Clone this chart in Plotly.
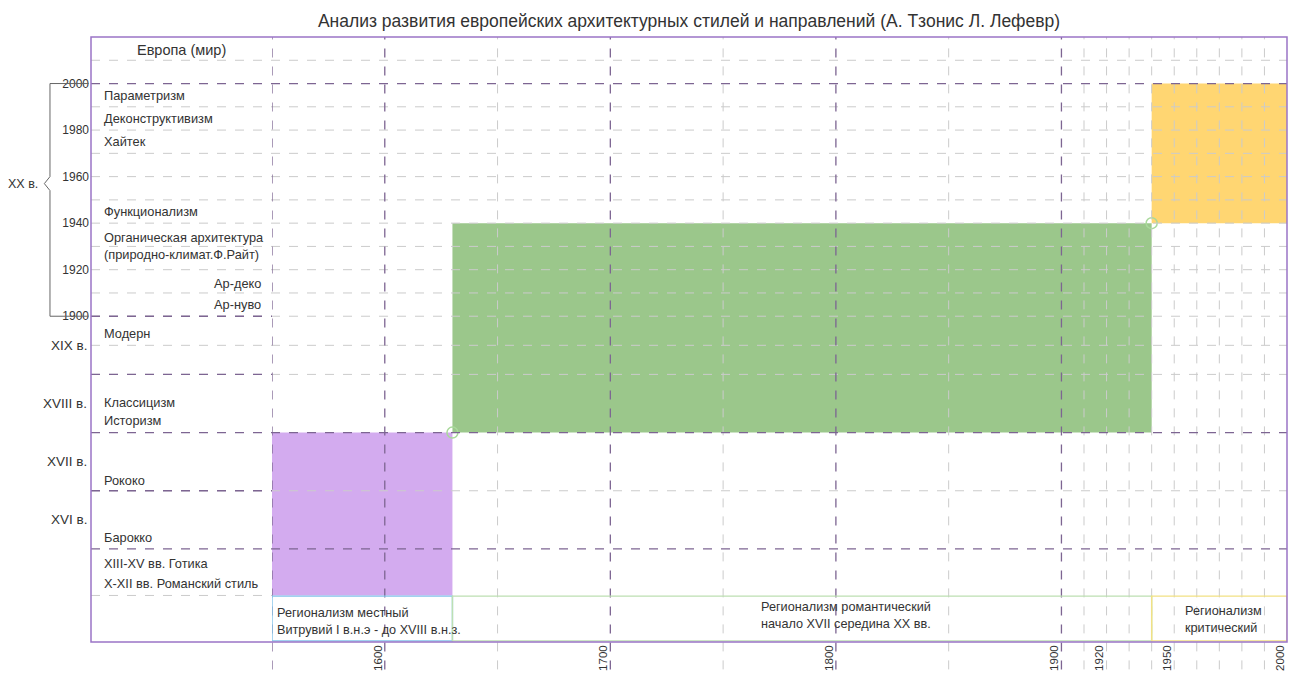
import numpy as np
import plotly.graph_objects as go

TITLE = "Анализ развития европейских архитектурных стилей и направлений (А. Тзонис Л. Лефевр)"

# vertical (style) scale: XX century stretched, earlier centuries compressed
scale_years = [900, 1500, 1900, 2020]
scale_pos = [2, 4, 14, 26]


def to_y(year):
    return float(np.interp(year, scale_years, scale_pos))


# styles in the left column and the year each one sits at
style_names = [
    "Параметризм", "Деконструктивизм", "Хайтек", "Функционализм",
    "Органическая архитектура<br>(природно-климат.Ф.Райт)",
    "Ар-деко", "Ар-нуво", "Модерн", "Классицизм", "Историзм",
    "Рококо", "Барокко", "XIII-XV вв. Готика", "X-XII вв. Романский стиль",
]
style_years = [1995, 1985, 1975, 1945, 1930, 1914, 1905, 1870, 1752, 1721, 1617, 1520, 1317, 1060]
style_right = ["Ар-деко", "Ар-нуво"]

# left axis
year_ticks = [2000, 1980, 1960, 1940, 1920, 1900]
century_labels = ["XIX в.", "XVIII в.", "XVII в.", "XVI в."]
century_mid = [1850, 1750, 1650, 1550]

# bottom axis (regionalism timeline)
x_ticks = [1600, 1700, 1800, 1900, 1920, 1950, 2000]

# blocks: regionalism period (x) crossed with style period (y)
block_x0 = [1550, 1630, 1940]
block_x1 = [1630, 1940, 2000]
block_y0 = [900, 1700, 1940]
block_y1 = [1700, 1940, 2000]
block_colors = ["#d3abef", "#9bc78b", "#ffd672"]

# regionalism boxes along the bottom row
region_names = [
    "Регионализм местный<br>Витрувий I в.н.э - до XVIII в.н.з.",
    "Регионализм романтический<br>начало XVII середина XX вв.",
    "Регионализм<br>критический",
]
region_x0 = [1550, 1630, 1940]
region_x1 = [1630, 1940, 2000]
region_text_x = [1551.3, 1766, 1954]
region_text_y = [0.86, 1.12, 0.97]
region_border = ["#82c4ea", "#bde0b2", "#f2e184"]

# start points of the periods
circle_x = [1630, 1940]
circle_y = [1700, 1940]

# grid
grid_dark_x = [1550, 1600, 1700, 1800, 1900]
grid_light_x = [1650, 1750, 1850, 1910, 1920, 1930, 1940, 1950, 1960, 1970, 1980, 1990]
grid_dark_y = [2000, 1700, 1500]
grid_light_y = [2010, 1990, 1980, 1970, 1960, 1950, 1940, 1930, 1920, 1910, 1900, 1850, 1800, 1600]
grid_col_dark_y = [1900, 1800, 1600]

DARK = "#7d6592"
LIGHT = "#cbcbcb"
FRAME = "#9b74c6"
TXT = "#333333"
FONT = "Liberation Sans, Arial, sans-serif"
COL = 181 / 1196  # width of the label column in paper units

fig = go.Figure(
    go.Scatter(
        x=circle_x, y=[to_y(v) for v in circle_y],
        mode="markers",
        marker=dict(symbol="circle-open", size=11, color="#a9d99b", line=dict(width=1.5)),
        hoverinfo="skip",
    )
)

shapes = []
for x0, x1, y0, y1, c in zip(block_x0, block_x1, block_y0, block_y1, block_colors):
    shapes.append(dict(type="rect", xref="x", yref="y", x0=x0, x1=x1, y0=to_y(y0), y1=to_y(y1),
                       fillcolor=c, line=dict(width=0), layer="below"))

for v in grid_light_y:
    shapes.append(dict(type="line", xref="paper", yref="y", x0=0, x1=1, y0=to_y(v), y1=to_y(v),
                       line=dict(color=LIGHT, width=1, dash="dash")))
shapes.append(dict(type="line", xref="paper", yref="y", x0=0, x1=COL, y0=2, y1=2,
                   line=dict(color=LIGHT, width=1, dash="dash")))
for v in grid_light_x:
    shapes.append(dict(type="line", xref="x", yref="paper", x0=v, x1=v, y0=-0.075, y1=1,
                       line=dict(color=LIGHT, width=1, dash="dash")))
for v in grid_dark_y:
    shapes.append(dict(type="line", xref="paper", yref="y", x0=0, x1=1, y0=to_y(v), y1=to_y(v),
                       line=dict(color=DARK, width=1.3, dash="dash")))
for v in grid_col_dark_y:
    shapes.append(dict(type="line", xref="paper", yref="y", x0=0, x1=COL, y0=to_y(v), y1=to_y(v),
                       line=dict(color=DARK, width=1.3, dash="dash")))
for v in grid_dark_x:
    shapes.append(dict(type="line", xref="x", yref="paper", x0=v, x1=v, y0=-0.075, y1=1,
                       line=dict(color=DARK, width=1.3, dash="dash")))

for x0, x1, c in zip(region_x0, region_x1, region_border):
    shapes.append(dict(type="rect", xref="x", yref="y", x0=x0, x1=x1, y0=0.05, y1=1.97,
                       line=dict(color=c, width=1.4)))

# outer frame
shapes.append(dict(type="rect", xref="paper", yref="paper", x0=0, x1=1, y0=0, y1=1,
                   line=dict(color=FRAME, width=1.5)))

# bracket for the XX century
yt, yb, ym = to_y(2000), to_y(1900), to_y(1957)
bx, bn, be = -0.0343, -0.039, -0.002
shapes.append(dict(type="path", xref="paper", yref="y",
                   path=f"M {be},{yt} L {bx},{yt} L {bx},{ym + 0.3} L {bn},{ym} L {bx},{ym - 0.3} L {bx},{yb} L {be},{yb}",
                   line=dict(color="#666666", width=1)))

annotations = [
    dict(text="Европа (мир)", xref="paper", yref="paper", x=0.076, y=0.9785,
         xanchor="center", yanchor="middle",
         showarrow=False, font=dict(size=14.5, color=TXT)),
    dict(text="XX в.", xref="paper", yref="y", x=-0.0425, y=ym, xanchor="right", yanchor="middle",
         showarrow=False, font=dict(size=12.5, color=TXT)),
]
for name, yr in zip(century_labels, century_mid):
    annotations.append(dict(text=name, xref="paper", yref="y", x=-0.002, y=to_y(yr),
                            xanchor="right", yanchor="middle",
                            showarrow=False, font=dict(size=13.5, color=TXT)))
for name, yr in zip(style_names, style_years):
    right = name in style_right
    annotations.append(dict(
        text=name, xref="paper", yref="y",
        x=0.1438 if right else 0.0095, y=to_y(yr),
        xanchor="right" if right else "left", yanchor="middle", align="left",
        showarrow=False, font=dict(size=12.8, color=TXT),
    ))
for name, tx, ty in zip(region_names, region_text_x, region_text_y):
    annotations.append(dict(text=name, x=tx, y=ty, xanchor="left", yanchor="middle", align="left",
                            showarrow=False, font=dict(size=12.7, color=TXT)))

# the page body keeps an 8px margin, so the figure is 16px smaller than the window
fig.update_layout(
    width=1286,
    height=670,
    margin=dict(l=83, r=7, t=29, b=36, autoexpand=False),
    paper_bgcolor="white",
    plot_bgcolor="white",
    showlegend=False,
    hovermode=False,
    font=dict(family=FONT, color=TXT, size=12),
    title=dict(text=TITLE, x=0.5, xref="paper", y=0.99, yref="container",
               xanchor="center", yanchor="top", font=dict(size=17.5, color=TXT)),
    xaxis=dict(
        domain=[COL, 1], range=[1550, 2000],
        showgrid=False, zeroline=False, showline=False,
        tickmode="array", tickvals=x_ticks, ticktext=[str(v) for v in x_ticks],
        tickangle=-90, tickfont=dict(size=11.5, color=TXT), ticklabelshift=-7,
    ),
    yaxis=dict(
        range=[0, 26], anchor="free", position=0,
        showgrid=False, zeroline=False, showline=False,
        tickmode="array",
        tickvals=[to_y(v) for v in year_ticks],
        ticktext=[str(v) for v in year_ticks],
        tickfont=dict(size=12, color=TXT), ticklabelstandoff=2,
    ),
    shapes=shapes,
    annotations=annotations,
)

fig.write_html("out.html")
